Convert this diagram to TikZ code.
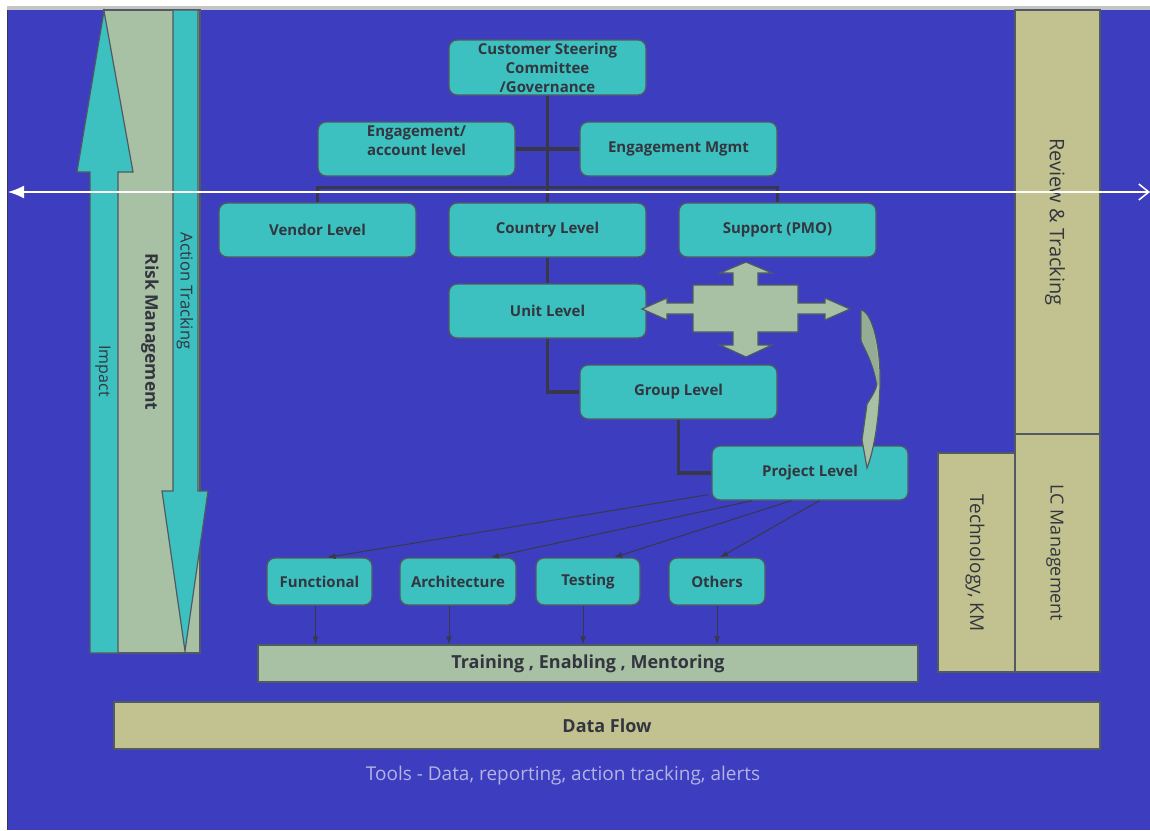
\documentclass[tikz,border=0pt]{standalone}
\usepackage{fontspec}
\setmainfont{Open Sans}
\usetikzlibrary{arrows.meta,calc}
\definecolor{bg}{HTML}{3D3DC0}
\definecolor{tealbox}{HTML}{3CC0C0}
\definecolor{sage}{HTML}{A8C0A4}
\definecolor{sagedark}{HTML}{94AC94}
\definecolor{khaki}{HTML}{C2C290}
\definecolor{edge}{HTML}{505A60}
\definecolor{ink}{HTML}{33363E}
\definecolor{conn}{HTML}{38384A}
\definecolor{tools}{HTML}{B4B4E4}
\definecolor{topgray}{HTML}{C4C4C4}
\begin{document}
\begin{tikzpicture}[x=1pt,y=-1pt,
 box/.style={draw=edge,line width=1.3pt,fill=tealbox,rounded corners=8pt,inner sep=0pt,text=ink,font=\bfseries\fontsize{15}{19}\selectfont,align=center},
 lbl/.style={inner sep=0pt,text=ink,font=\bfseries\fontsize{15}{19}\selectfont,align=center},
 bar/.style={draw=edge,line width=1.3pt,inner sep=0pt,text=ink,font=\bfseries\fontsize{18.5}{21}\selectfont},
 vtext/.style={rotate=-90,inner sep=0pt,text=ink,font=\fontsize{18.5}{21}\selectfont},
 tree/.style={draw=conn,line width=3.5pt},
 feed/.style={draw=conn,line width=1pt,-{Latex[length=8pt,width=6pt]}},
 shapeline/.style={draw=edge,line width=1.2pt},
]
\useasboundingbox (0,0) rectangle (1150,830);
% background
\fill[white] (0,0) rectangle (1150,830);
\fill[topgray] (7,6) rectangle (1150,10);
\fill[bg] (8,10) rectangle (1150,830);
\draw[conn,line width=1.2pt] (7.5,10) -- (7.5,830);

% left column
\node[bar,fill=sage,minimum width=96pt,minimum height=643pt] (risk) at (152,331.5) {};
\filldraw[shapeline,fill=tealbox] (90,653) -- (90,172) -- (77,172) -- (104,11) -- (133,172) -- (118,172) -- (118,653) -- cycle;
\filldraw[shapeline,fill=tealbox] (173,10) -- (173,491) -- (162,491) -- (185,651) -- (208,491) -- (198,491) -- (198,10) -- cycle;
\node[vtext,font=\bfseries\fontsize{17.5}{20}\selectfont] (risklbl) at (150,332) {Risk Management};
\node[vtext,font=\fontsize{16}{18}\selectfont] (implbl) at (103,371) {Impact};
\node[vtext,font=\fontsize{16.5}{18}\selectfont] (actlbl) at (185,291) {Action Tracking};

% right column
\node[bar,fill=khaki,minimum width=85pt,minimum height=424pt] (rev) at (1057.5,222) {};
\node[bar,fill=khaki,minimum width=85pt,minimum height=238pt] (lcm) at (1057.5,553) {};
\node[bar,fill=khaki,minimum width=77pt,minimum height=219pt] (tec) at (976.5,562.5) {};
\node[vtext,font=\fontsize{20}{22}\selectfont] (revlbl) at (1055,222) {Review \& Tracking};
\node[vtext,font=\fontsize{18}{21}\selectfont] (lcmlbl) at (1055,553) {LC Management};
\node[vtext,font=\fontsize{19}{21}\selectfont] (teclbl) at (975,563) {Technology, KM};

% bottom bars
\node[bar,fill=khaki,minimum width=986pt,minimum height=47pt,font=\bfseries\fontsize{18}{21}\selectfont] (dat) at (607,725.5) {Data Flow};
\node[text=tools,font=\fontsize{19}{21}\selectfont,inner sep=0pt] (tools) at (563,776) {Tools - Data, reporting, action tracking, alerts};
\node[bar,fill=sage,minimum width=660pt,minimum height=37pt,font=\bfseries\fontsize{18}{21}\selectfont] (trn) at (588,663.5) {Training , Enabling , Mentoring};

% org boxes
\node[box,minimum width=197pt,minimum height=55pt] (csc) at (547.5,67.5) {Customer Steering\\Committee\\/Governance};
\node[box,minimum width=197pt,minimum height=54pt] (eng) at (416.5,149) {};
\node[lbl] (englbl) at ([yshift=8.5pt]eng.center) {Engagement/\\account level};
\node[box,minimum width=197pt,minimum height=54pt] (emg) at (678.5,149) {Engagement Mgmt};
\node[box,minimum width=197pt,minimum height=54pt] (ven) at (317.5,230) {Vendor Level};
\node[box,minimum width=197pt,minimum height=54pt] (cty) at (547.5,230) {Country Level};
\node[box,minimum width=197pt,minimum height=54pt] (sup) at (777.5,230) {Support (PMO)};
\node[box,minimum width=197pt,minimum height=54pt] (unit) at (547.5,311) {Unit Level};
\node[box,minimum width=197pt,minimum height=54pt] (grp) at (678.5,392) {Group Level};
\node[box,minimum width=196pt,minimum height=54pt] (prj) at (810,473) {Project Level};
\node[box,minimum width=105pt,minimum height=47pt] (fun) at (319.5,581.5) {Functional};
\node[box,minimum width=116pt,minimum height=47pt] (arc) at (458,581.5) {Architecture};
\node[box,minimum width=104pt,minimum height=47pt] (tst) at (588,581.5) {Testing};
\node[box,minimum width=96pt,minimum height=47pt] (oth) at (717,581.5) {Others};

% tree connectors
\draw[tree] (csc.south) -- (cty.north);
\draw[tree] (eng.east) -- (emg.west);
\draw[tree] (ven.north) -- ++(0,-15) -| (sup.north);
\draw[tree] (cty.south) -- (unit.north);
\draw[tree] (unit.south) |- (grp.west);
\draw[tree] (grp.south) |- (prj.west);

% project level fan-out
\draw[feed] ($(prj.south west)+(-3,-6)$) -- ($(fun.north)+(8,0)$);
\draw[feed] ($(prj.south west)+(41,0)$) -- ($(arc.north)+(33,0)$);
\draw[feed] ($(prj.south west)+(80,0)$) -- ($(tst.north)+(26,0)$);
\draw[feed] ($(prj.south west)+(108,0)$) -- ($(oth.north)+(3,0)$);

% down arrows to training
\coordinate (f1) at ([xshift=-4pt]fun.south);
\coordinate (f2) at ([xshift=-9pt]arc.south);
\coordinate (f3) at ([xshift=-5pt]tst.south);
\coordinate (f4) at (oth.south);
\draw[feed] (f1) -- (f1 |- trn.north);
\draw[feed] (f2) -- (f2 |- trn.north);
\draw[feed] (f3) -- (f3 |- trn.north);
\draw[feed] (f4) -- (f4 |- trn.north);

% four-way arrow
\filldraw[shapeline,fill=sage] (746,262) -- (772,273) -- (758,273) -- (758,285) -- (798,285) -- (798,303) -- (825,303) -- (825,298) -- (850,309) -- (825,320) -- (825,314) -- (798,314) -- (798,332) -- (758,332) -- (758,345) -- (772,345) -- (746,357) -- (720,345) -- (733,345) -- (733,332) -- (693,332) -- (693,314) -- (667,314) -- (667,320) -- (642,309) -- (667,298) -- (667,303) -- (693,303) -- (693,285) -- (733,285) -- (733,273) -- (720,273) -- cycle;

% curved arrow
\filldraw[shapeline,fill=sage] (861,310) .. controls (873,313) and (881,350) .. (880,385) .. controls (879,420) and (874,450) .. (867,468) -- (862,440) -- (867,404) .. controls (872,396) and (876,390) .. (877,384) .. controls (873,360) and (862,345) .. (861,340) -- cycle;
\fill[sagedark] (862,311) .. controls (872,315) and (879,350) .. (879,384) -- (877,383) .. controls (873,360) and (863,345) .. (862,340) -- cycle;

% white double arrow
\coordinate (wl) at (8,192);
\coordinate (wr) at (1150,192);
\draw[white,line width=1.5pt,{Latex[length=16pt,width=13pt]}-{Straight Barb[length=10pt,width=16pt]}] (wl) -- (wr);
\end{tikzpicture}
\end{document}
